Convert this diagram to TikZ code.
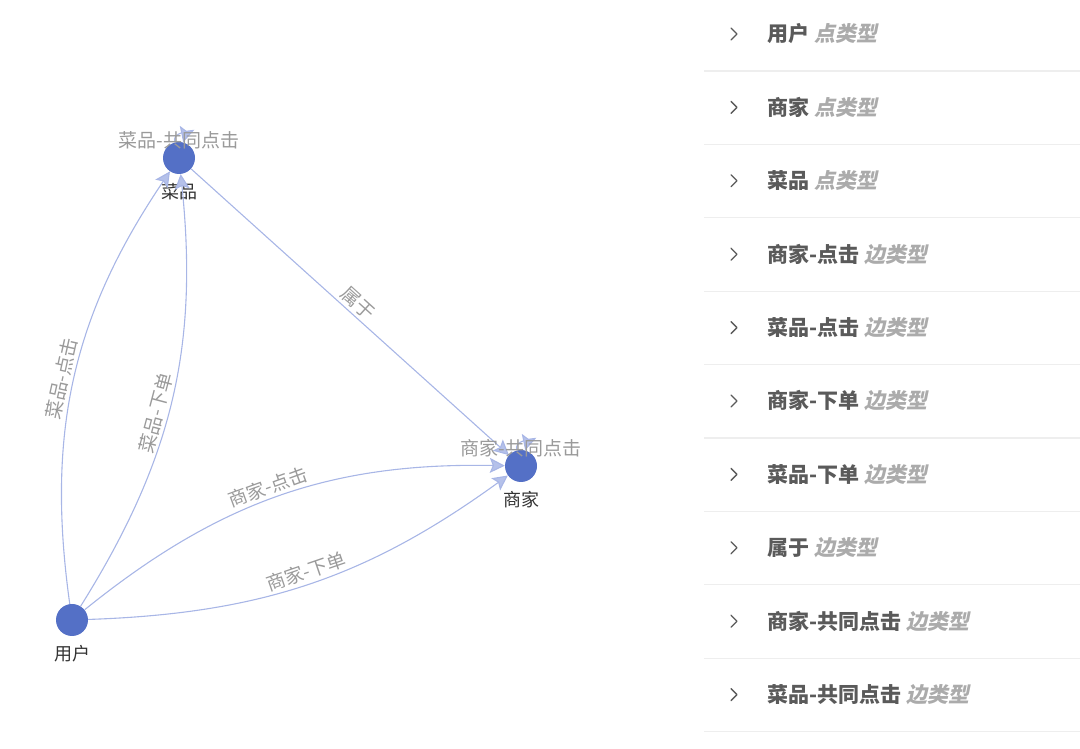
\documentclass[tikz,border=0pt]{standalone}
\usepackage{fontspec}
\setmainfont{Noto Sans CJK SC}
\newfontfamily\slantcjk{Noto Sans CJK SC}[FakeSlant=0.2]
\usetikzlibrary{arrows.meta, positioning}
\definecolor{kgblue}{HTML}{5470C6}
\definecolor{kgedge}{HTML}{A8B6E6}
\definecolor{kgtext}{HTML}{9A9A9A}
\definecolor{kgdark}{HTML}{333333}
\definecolor{listtext}{HTML}{5A5A5A}
\definecolor{listtype}{HTML}{ABABAB}
\definecolor{listrule}{HTML}{EEEEEE}
\tikzset{
  kg node/.style={
    circle, fill=kgblue, minimum size=32pt, inner sep=0pt,
    label={[kg name]below:#1}
  },
  kg name/.style={
    font=\fontsize{18}{20}\selectfont, text=kgdark, inner sep=1pt,
    yshift=-8pt
  },
  kg edge/.style={
    -{Stealth[length=15pt, width=15pt, inset=3pt, fill=kgedge!85]},
    line width=1.1pt, draw=kgedge
  },
  kg label/.style={
    font=\fontsize{19}{21}\selectfont, text=kgtext,
    sloped, above, inner sep=3pt
  },
  kg loop label/.style={
    font=\fontsize{19}{21}\selectfont, text=kgtext,
    anchor=center, inner sep=0pt, yshift=-5pt
  },
  list item/.style={
    anchor=west, font=\fontsize{21}{24}\selectfont\bfseries,
    text=listtext, inner sep=0pt
  },
  list chevron/.style={
    draw=listtext, line width=1.3pt, line cap=round, line join=round
  },
  list rule/.style={
    draw=listrule, line width=1.2pt
  }
}
\begin{document}
\begin{tikzpicture}[x=1pt, y=1pt]
  \useasboundingbox (0,0) rectangle (1080,749);

  % graph
  \node (user) [kg node=用户] at (72,129) {};
  \node (dish) [kg node=菜品] at (179,591) {};
  \node (shop) [kg node=商家] at (521,283) {};

  \draw [kg edge] (user) to[bend left=21] node[kg label, pos=0.49] {菜品-点击} (dish);
  \draw [kg edge] (user) to[bend right=19] node[kg label, pos=0.46] {菜品-下单} (dish);
  \draw [kg edge] (dish) -- node[kg label, pos=0.5] {属于} (shop);
  \draw [kg edge] (user) to[bend left=20] node[kg label, pos=0.48] {商家-点击} (shop);
  \draw [kg edge] (user) to[bend right=17] node[kg label, pos=0.5] {商家-下单} (shop);
  \draw [kg edge] (dish) to[out=105, in=75, min distance=10pt]
    node[kg loop label, pos=0.5] {菜品-共同点击} (dish);
  \draw [kg edge] (shop) to[out=105, in=75, min distance=10pt]
    node[kg loop label, pos=0.5] {商家-共同点击} (shop);

  % type list
  \foreach \name/\kind [count=\i] in {用户/点类型, 商家/点类型, 菜品/点类型,
      商家-点击/边类型, 菜品-点击/边类型, 商家-下单/边类型, 菜品-下单/边类型,
      属于/边类型, 商家-共同点击/边类型, 菜品-共同点击/边类型} {
    \pgfmathsetmacro\yy{715-73.4*(\i-1)}
    \node (item\i) [list item] at (767,\yy)
      {\name\ {\slantcjk\bfseries\color{listtype}\kind}};
    \draw [list chevron] (731,\yy+6) -- (737,\yy) -- (731,\yy-6);
    \draw [list rule] (704,\yy-37) -- (1080,\yy-37);
  }
\end{tikzpicture}
\end{document}
